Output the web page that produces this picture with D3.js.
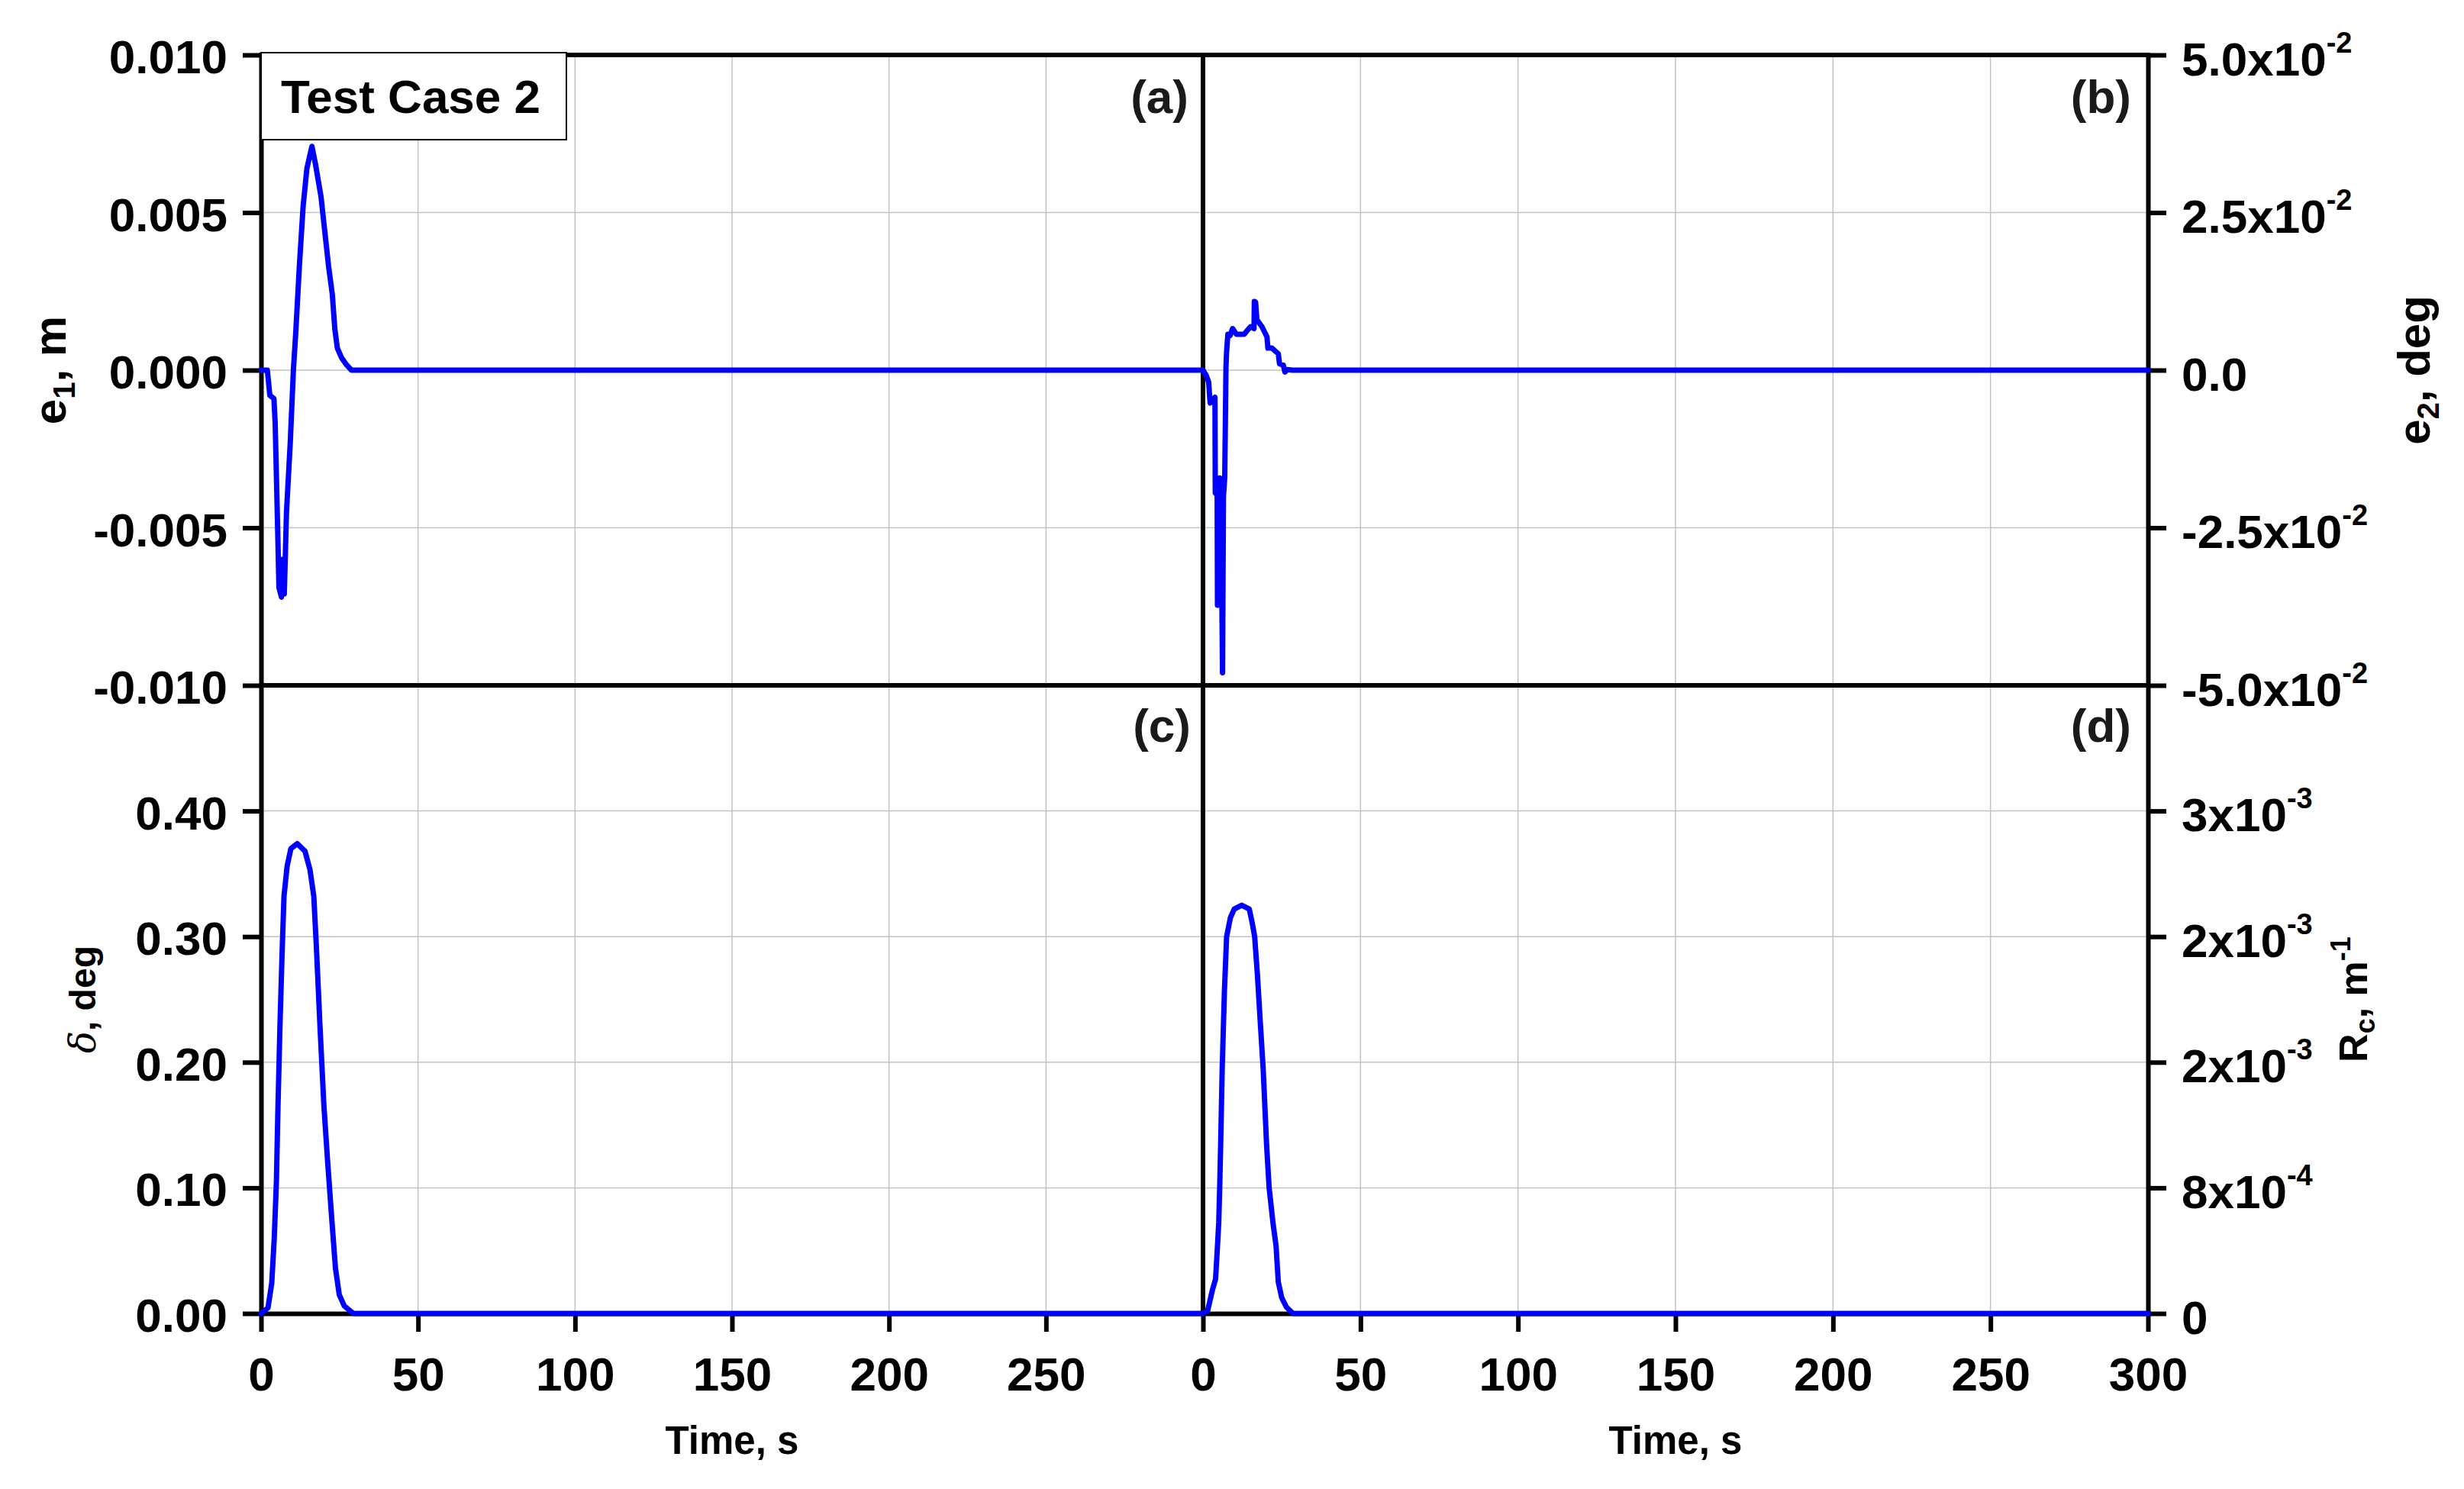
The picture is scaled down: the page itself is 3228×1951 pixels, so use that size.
<!DOCTYPE html>
<html><head><meta charset="utf-8">
<script src="https://cdn.jsdelivr.net/npm/d3@7"></script>
<style>body{margin:0;background:#fff}</style>
</head><body>
<svg id="chart" width="3228" height="1951" xmlns="http://www.w3.org/2000/svg"></svg>
<script>
// ---------------- DATA ----------------
const timeTicksLeft = [0, 50, 100, 150, 200, 250];
const timeTicksRight = [0, 50, 100, 150, 200, 250, 300];
const gridTimes = [50, 100, 150, 200, 250];

const e1Ticks = [-0.010, -0.005, 0.000, 0.005, 0.010];
const e2Ticks = [-0.05, -0.025, 0, 0.025, 0.05];
const deltaTicks = [0.00, 0.10, 0.20, 0.30, 0.40];
const rcTicks = [0, 0.0008, 0.0016, 0.0024, 0.0032];

// (a) e1, m
const e1Time = [0, 2.0, 2.8, 4.1, 4.5, 4.9, 5.3, 5.7, 6.5, 7.0, 7.4, 8.1, 9.3, 10.3, 11.0, 12.2, 13.4, 14.6, 16.2, 17.4, 19.1, 20.3, 21.5, 22.7, 23.5, 24.3, 25.6, 27.2, 28.8, 300];
const e1Values = [0, 0, -0.0008, -0.0009, -0.0017, -0.0034, -0.0051, -0.0069, -0.0072, -0.0060, -0.0071, -0.0045, -0.0023, 0, 0.0011, 0.0033, 0.0052, 0.0064, 0.0071, 0.0065, 0.0055, 0.0044, 0.0033, 0.0024, 0.0013, 0.0007, 0.0004, 0.00017, 0, 0];

// (b) e2, deg
const e2Time = [0, 1.0, 1.8, 2.2, 2.3, 3.4, 3.8, 3.9, 4.5, 4.6, 4.9, 5.3, 5.7, 6.2, 6.5, 6.9, 7.3, 7.5, 7.9, 8.6, 9.4, 10.6, 13.1, 13.9, 15.1, 16.2, 16.3, 16.7, 17.1, 18.7, 20.3, 20.6, 21.9, 23.9, 24.3, 25.5, 26.0, 26.8, 28.4, 300];
const e2Values = [0, -0.0008, -0.0019, -0.0048, -0.0052, -0.0046, -0.0043, -0.0195, -0.0198, -0.0373, -0.0330, -0.0171, -0.0200, -0.0480, -0.0200, -0.0170, 0.0005, 0.0030, 0.0057, 0.0055, 0.0066, 0.0057, 0.0057, 0.0062, 0.0069, 0.0066, 0.0109, 0.0108, 0.0080, 0.0069, 0.0053, 0.0035, 0.0035, 0.0026, 0.0010, 0.0008, -0.0003, 0.0001, 0, 0];

// (c) delta, deg
const deltaTime = [0, 2.2, 3.4, 4.2, 4.9, 5.4, 6.0, 6.7, 7.3, 8.3, 9.5, 11.5, 14.0, 15.6, 16.8, 17.6, 18.8, 20.0, 21.2, 22.5, 23.7, 24.9, 26.5, 29.4, 300];
const deltaValues = [0, 0.0045, 0.024, 0.060, 0.106, 0.166, 0.227, 0.287, 0.332, 0.356, 0.370, 0.374, 0.368, 0.353, 0.332, 0.293, 0.227, 0.166, 0.121, 0.076, 0.036, 0.015, 0.006, 0, 0];

// (d) Rc, 1/m
const rcTime = [0, 1.5, 3.0, 4.0, 4.6, 5.0, 5.3, 5.6, 6.1, 6.8, 7.5, 8.7, 9.9, 12.3, 14.7, 15.6, 16.4, 17.3, 18.2, 19.1, 20.2, 21.0, 22.2, 23.2, 23.9, 25.0, 26.5, 28.6, 300];
const rcValues = [0, 0.00002, 0.00015, 0.00022, 0.00043, 0.00058, 0.00080, 0.00107, 0.00156, 0.00205, 0.00240, 0.00252, 0.002575, 0.00260, 0.002575, 0.00249, 0.00240, 0.00215, 0.00185, 0.00156, 0.00107, 0.00080, 0.00058, 0.00043, 0.00020, 0.00010, 0.00004, 0, 0];

// ---------------- LAYOUT ----------------
const FONT = "'Liberation Sans', Arial, Helvetica, sans-serif";
const L = 342, M = 1576, R = 2814, T = 72, Y = 898, B = 1721;
const BLUE = "#0000ff";
const AXW = 6;

const svg = d3.select("#chart");
svg.append("rect").attr("width", 3228).attr("height", 1951).attr("fill", "#fff");

const xLeft = d3.scaleLinear().domain([0, 300]).range([L, M]);
const xRight = d3.scaleLinear().domain([0, 300]).range([M, R]);
const yA = d3.scaleLinear().domain([-0.01, 0.01]).range([Y, T]);
const yB = d3.scaleLinear().domain([-0.05, 0.05]).range([Y, T]);
const yC = d3.scaleLinear().domain([0, 0.5]).range([B, Y]);
const yD = d3.scaleLinear().domain([0, 0.004]).range([B, Y]);

// ---------- grid ----------
const grid = svg.append("g").attr("stroke", "#c2c2c2").attr("stroke-width", 1.5);
[xLeft, xRight].forEach(xs => {
  grid.selectAll(null).data(gridTimes).enter().append("line")
    .attr("x1", d => xs(d)).attr("x2", d => xs(d))
    .attr("y1", yA.range()[1]).attr("y2", yC.range()[0]);
});
grid.selectAll(null).data(e1Ticks.filter(d => Math.abs(d) < 0.01)).enter().append("line")
  .attr("x1", L).attr("x2", R).attr("y1", d => yA(d)).attr("y2", d => yA(d));
grid.selectAll(null).data(deltaTicks).enter().append("line")
  .attr("x1", L).attr("x2", R).attr("y1", d => yC(d)).attr("y2", d => yC(d));

// ---------- axes ----------
const fmtMinus = s => s.replace("\u2212", "-");
function styleAxis(g, fs) {
  g.attr("font-family", FONT);
  g.select(".domain").attr("stroke-width", AXW).attr("stroke", "#000");
  g.selectAll(".tick line").attr("stroke-width", AXW).attr("stroke", "#000");
  g.selectAll(".tick text").attr("font-size", fs).attr("font-weight", "bold").attr("fill", "#000").attr("font-family", FONT);
}

// left top: e1
const gA = svg.append("g").attr("transform", `translate(${L},0)`)
  .call(d3.axisLeft(yA).tickValues(e1Ticks).tickFormat(d => fmtMinus(d3.format(".3f")(d))).tickSize(24).tickSizeOuter(0).tickPadding(20));
styleAxis(gA, 62);
gA.selectAll(".tick text").attr("dy", "0.38em");

// left bottom: delta
const gC = svg.append("g").attr("transform", `translate(${L},0)`)
  .call(d3.axisLeft(yC).tickValues(deltaTicks).tickFormat(d3.format(".2f")).tickSize(24).tickSizeOuter(0).tickPadding(20));
styleAxis(gC, 62);
gC.selectAll(".tick text").attr("dy", "0.38em");

// right top: e2
const gB = svg.append("g").attr("transform", `translate(${R},0)`)
  .call(d3.axisRight(yB).tickValues(e2Ticks).tickFormat(d => d).tickSize(24).tickSizeOuter(0).tickPadding(20));
styleAxis(gB, 62);
gB.selectAll(".tick text").attr("dy", "0.42em").each(function(d) {
  const t = d3.select(this); t.text(null);
  if (d === 0) { t.append("tspan").text("0.0"); return; }
  const mant = d / 1e-2;
  t.append("tspan").text((mant < 0 ? "-" : "") + Math.abs(mant).toFixed(1) + "x10");
  t.append("tspan").attr("font-size", 38).attr("dy", -30).text("-2");
});

// right bottom: Rc
const gD = svg.append("g").attr("transform", `translate(${R},0)`)
  .call(d3.axisRight(yD).tickValues(rcTicks).tickFormat(d => d).tickSize(24).tickSizeOuter(0).tickPadding(20));
styleAxis(gD, 62);
gD.selectAll(".tick text").attr("dy", "0.42em").each(function(d) {
  const t = d3.select(this); t.text(null);
  if (d === 0) { t.append("tspan").text("0"); return; }
  let ex = Math.floor(Math.log10(d) + 1e-9);
  let m = Math.round(d / Math.pow(10, ex));
  t.append("tspan").text(m + "x10");
  t.append("tspan").attr("font-size", 38).attr("dy", -30).text(String(ex));
});

// bottom axes
const gXL = svg.append("g").attr("transform", `translate(0,${B})`)
  .call(d3.axisBottom(xLeft).tickValues(timeTicksLeft).tickFormat(d3.format("d")).tickSize(24).tickSizeOuter(0).tickPadding(33));
styleAxis(gXL, 62);
const gXR = svg.append("g").attr("transform", `translate(0,${B})`)
  .call(d3.axisBottom(xRight).tickValues(timeTicksRight).tickFormat(d3.format("d")).tickSize(24).tickSizeOuter(0).tickPadding(33));
styleAxis(gXR, 62);

// frame: top line, middle horizontal, middle vertical
const frame = svg.append("g").attr("stroke", "#000").attr("stroke-width", AXW).attr("stroke-linecap", "square");
frame.append("line").attr("x1", xLeft(0)).attr("x2", xRight(300)).attr("y1", yA(0.01)).attr("y2", yA(0.01));
frame.append("line").attr("x1", xLeft(0)).attr("x2", xRight(300)).attr("y1", yA(-0.01)).attr("y2", yA(-0.01));
frame.append("line").attr("x1", xRight(0)).attr("x2", xRight(0)).attr("y1", yA(0.01)).attr("y2", yC(0));

// ---------- data lines ----------
function drawLine(times, vals, xs, ys) {
  const pts = times.map((t, i) => [t, vals[i]]);
  svg.append("path").datum(pts)
    .attr("fill", "none").attr("stroke", BLUE).attr("stroke-width", 7)
    .attr("stroke-linejoin", "round").attr("stroke-linecap", "round")
    .attr("d", d3.line().x(d => xs(d[0])).y(d => ys(d[1])));
}
drawLine(e1Time, e1Values, xLeft, yA);
drawLine(e2Time, e2Values, xRight, yB);
drawLine(deltaTime, deltaValues, xLeft, yC);
drawLine(rcTime, rcValues, xRight, yD);

// ---------- panel labels ----------
const lab = svg.append("g").attr("font-family", FONT).attr("font-weight", "bold").attr("font-size", 62).attr("fill", "#1a1a1a").attr("text-anchor", "end");
lab.append("text").attr("x", xLeft(300) - 19).attr("y", yA(0.01) + 76).text("(a)");
lab.append("text").attr("x", xRight(300) - 22).attr("y", yA(0.01) + 76).text("(b)");
lab.append("text").attr("x", xLeft(300) - 16).attr("y", yC(0.5) + 74).text("(c)");
lab.append("text").attr("x", xRight(300) - 22).attr("y", yC(0.5) + 74).text("(d)");

// ---------- Test case box ----------
svg.append("rect").attr("x", L).attr("y", 69).attr("width", 400).attr("height", 114)
  .attr("fill", "#fff").attr("stroke", "#000").attr("stroke-width", 2);
svg.append("text").attr("x", 368).attr("y", 148).attr("font-family", FONT).attr("font-weight", "bold")
  .attr("font-size", 62).attr("fill", "#000").text("Test Case 2");

// ---------- axis titles ----------
const tt = svg.append("g").attr("font-family", FONT).attr("font-weight", "bold").attr("fill", "#000");
tt.append("text").attr("x", (L + M) / 2).attr("y", 1905).attr("text-anchor", "middle").attr("font-size", 51).text("Time, s");
tt.append("text").attr("x", (M + R) / 2).attr("y", 1905).attr("text-anchor", "middle").attr("font-size", 51).text("Time, s");

// e1, m
const t1 = tt.append("text").attr("transform", `translate(86,${(T + Y) / 2}) rotate(-90)`).attr("text-anchor", "middle").attr("font-size", 60);
t1.append("tspan").text("e");
t1.append("tspan").attr("font-size", 40).attr("dy", 12).text("1");
t1.append("tspan").attr("dy", -12).text(", m");

// e2, deg
const t2 = tt.append("text").attr("transform", `translate(3183,${(T + Y) / 2}) rotate(-90)`).attr("text-anchor", "middle").attr("font-size", 60);
t2.append("tspan").text("e");
t2.append("tspan").attr("font-size", 40).attr("dy", 12).text("2");
t2.append("tspan").attr("dy", -12).text(", deg");

// delta, deg
const t3 = tt.append("text").attr("transform", `translate(125,${(Y + B) / 2}) rotate(-90)`).attr("text-anchor", "middle").attr("font-size", 48);
t3.append("tspan").attr("font-family", "'DejaVu Serif', 'Liberation Serif', serif").attr("font-style", "italic").attr("font-weight", "normal").text("\u03b4");
t3.append("tspan").text(", deg");

// Rc, m-1
const t4 = tt.append("text").attr("transform", `translate(3101,${(Y + B) / 2}) rotate(-90)`).attr("text-anchor", "middle").attr("font-size", 52);
t4.append("tspan").text("R");
t4.append("tspan").attr("font-size", 36).attr("dy", 10).text("c");
t4.append("tspan").attr("dy", -10).text(", m");
t4.append("tspan").attr("font-size", 36).attr("dy", -22).text("-1");
</script>
</body></html>
